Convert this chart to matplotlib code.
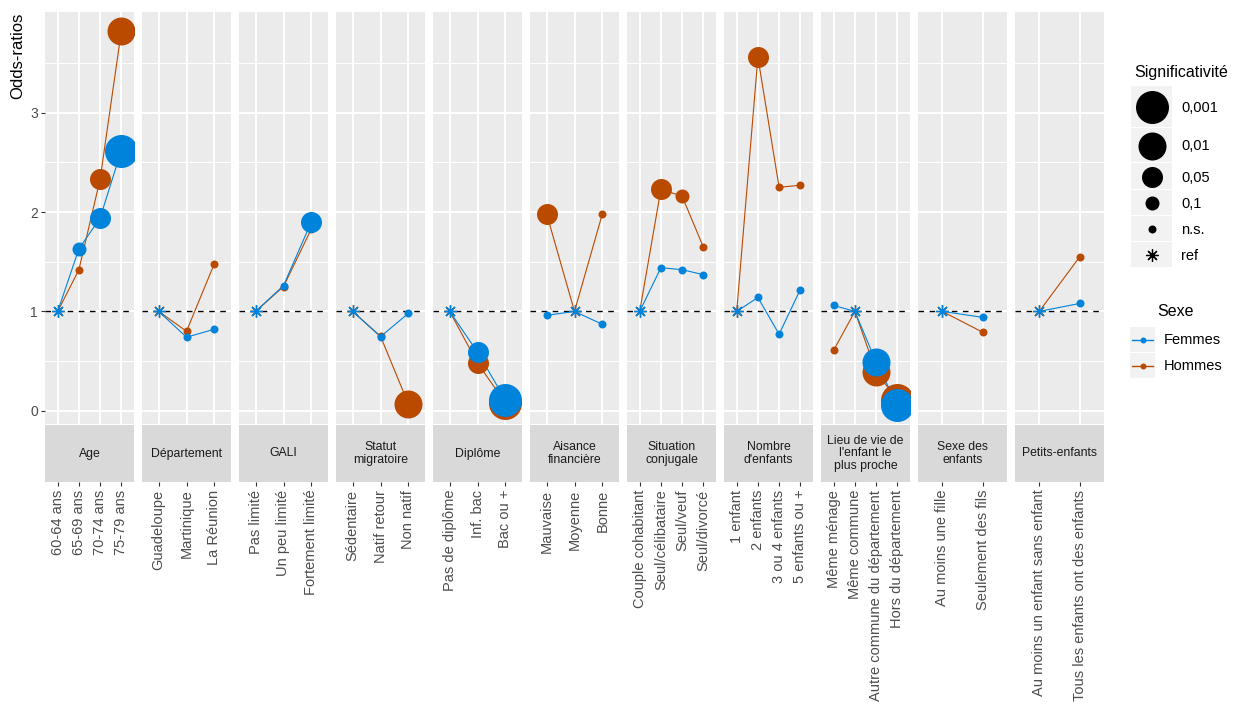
import matplotlib
matplotlib.use("Agg")
import matplotlib.pyplot as plt
from matplotlib.patches import Rectangle

plt.rcParams['font.family'] = ['Liberation Sans', 'DejaVu Sans']

W, H = 1241, 706

# --- data ---
FACETS = ["Age", "Département", "GALI", "Statut\nmigratoire", "Diplôme",
          "Aisance\nfinancière", "Situation\nconjugale", "Nombre\nd'enfants",
          "Lieu de vie de\nl'enfant le\nplus proche", "Sexe des\nenfants", "Petits-enfants"]
CATEGORIES = [
    ["60-64 ans", "65-69 ans", "70-74 ans", "75-79 ans"],
    ["Guadeloupe", "Martinique", "La Réunion"],
    ["Pas limité", "Un peu limité", "Fortement limité"],
    ["Sédentaire", "Natif retour", "Non natif"],
    ["Pas de diplôme", "Inf. bac", "Bac ou +"],
    ["Mauvaise", "Moyenne", "Bonne"],
    ["Couple cohabitant", "Seul/célibataire", "Seul/veuf", "Seul/divorcé"],
    ["1 enfant", "2 enfants", "3 ou 4 enfants", "5 enfants ou +"],
    ["Même ménage", "Même commune", "Autre commune du département", "Hors du département"],
    ["Au moins une fille", "Seulement des fils"],
    ["Au moins un enfant sans enfant", "Tous les enfants ont des enfants"],
]
OR_FEMMES = [
    [1, 1.63, 1.94, 2.62],
    [1, 0.74, 0.82],
    [1, 1.26, 1.90],
    [1, 0.745, 0.98],
    [1, 0.59, 0.11],
    [0.96, 1, 0.87],
    [1, 1.44, 1.42, 1.37],
    [1, 1.14, 0.77, 1.22],
    [1.06, 1, 0.49, 0.06],
    [1, 0.94],
    [1, 1.08],
]
OR_HOMMES = [
    [1, 1.42, 2.33, 3.82],
    [1, 0.80, 1.48],
    [1, 1.25, 1.83],
    [1, 0.75, 0.07],
    [1, 0.48, 0.08],
    [1.98, 1, 1.98],
    [1, 2.23, 2.16, 1.65],
    [1, 3.56, 2.25, 2.27],
    [0.61, 1, 0.39, 0.11],
    [1, 0.79],
    [1, 1.55],
]
SIG_FEMMES = [
    ["ref", "0,1", "0,05", "0,001"],
    ["ref", "n.s.", "n.s."],
    ["ref", "n.s.", "0,05"],
    ["ref", "n.s.", "n.s."],
    ["ref", "0,05", "0,001"],
    ["n.s.", "ref", "n.s."],
    ["ref", "n.s.", "n.s.", "n.s."],
    ["ref", "n.s.", "n.s.", "n.s."],
    ["n.s.", "ref", "0,01", "0,001"],
    ["ref", "n.s."],
    ["ref", "n.s."],
]
SIG_HOMMES = [
    ["ref", "n.s.", "0,05", "0,01"],
    ["ref", "n.s.", "n.s."],
    ["ref", "n.s.", "n.s."],
    ["ref", "n.s.", "0,01"],
    ["ref", "0,05", "0,001"],
    ["0,05", "ref", "n.s."],
    ["ref", "0,05", "0,1", "n.s."],
    ["ref", "0,05", "n.s.", "n.s."],
    ["n.s.", "ref", "0,01", "0,001"],
    ["ref", "n.s."],
    ["ref", "n.s."],
]
SEXES = ["Femmes", "Hommes"]
COLORS = {"Femmes": "#0083DB", "Hommes": "#BA4A00"}
SIG_LEVELS = ["0,001", "0,01", "0,05", "0,1", "n.s.", "ref"]
SIG_DIAM = {"0,001": 33, "0,01": 28, "0,05": 21, "0,1": 14, "n.s.": 8}  # pixels


def rect(x0, y0, x1, y1):
    # pixel box (origin top-left) -> figure fraction rect
    return [x0 / W, 1 - y1 / H, (x1 - x0) / W, (y1 - y0) / H]


def area(d):
    return (d * 0.72) ** 2


fig = plt.figure(figsize=(W / 100, H / 100), dpi=100)

data = {"Femmes": (OR_FEMMES, SIG_FEMMES), "Hommes": (OR_HOMMES, SIG_HOMMES)}

for i, (facet, cats) in enumerate(zip(FACETS, CATEGORIES)):
    x0 = 45 + i * 97
    ax = fig.add_axes(rect(x0, 12, x0 + 89, 424))
    st = fig.add_axes(rect(x0, 425, x0 + 89, 482))
    n = len(cats)
    pos = list(range(1, n + 1))

    ax.set_facecolor("#EBEBEB")
    for s in ax.spines.values():
        s.set_visible(False)
    ax.set_xlim(0.4, n + 0.6)
    ax.set_ylim(-0.134, 4.015)
    ax.set_xticks(pos)
    ax.set_yticks([0, 1, 2, 3])
    ax.set_yticks([0.5, 1.5, 2.5, 3.5], minor=True)
    ax.grid(which="major", color="white", lw=1.4)
    ax.grid(which="minor", color="white", lw=0.7)
    ax.set_axisbelow(True)
    ax.tick_params(axis="x", length=0, labelbottom=False)
    ax.tick_params(axis="y", which="minor", length=0)
    if i == 0:
        ax.tick_params(axis="y", length=3, width=0.8, color="#333333", pad=2.2,
                       labelsize=10, labelcolor="#4D4D4D")
    else:
        ax.tick_params(axis="y", left=False, labelleft=False)

    ax.axhline(1, color="black", lw=1.0, ls=(0, (4, 4)), zorder=2)

    # lines
    for sx in ["Hommes", "Femmes"]:
        vals = data[sx][0][i]
        ax.plot(pos, vals, color=COLORS[sx], lw=0.8, zorder=3)
    # points
    for sx in ["Hommes", "Femmes"]:
        vals, sigs = data[sx][0][i], data[sx][1][i]
        for p, v, sg in zip(pos, vals, sigs):
            if sg == "ref":
                ax.plot(p, v, marker=(8, 2, 0), ms=9, mew=0.9, color=COLORS[sx], zorder=4)
            else:
                ax.scatter(p, v, s=area(SIG_DIAM[sg]), color=COLORS[sx], lw=0, zorder=4)

    # strip (below the panel) carrying the category tick labels
    st.set_facecolor("#D9D9D9")
    for s in st.spines.values():
        s.set_visible(False)
    st.set_xlim(0.4, n + 0.6)
    st.set_yticks([])
    st.set_xticks(pos)
    st.set_xticklabels(cats, rotation=90)
    st.tick_params(axis="x", length=3, width=0.8, color="#333333", pad=2.5,
                   labelsize=10.5, labelcolor="#4D4D4D")
    st.text(0.5, 0.5, facet, transform=st.transAxes, ha="center", va="center",
            fontsize=8.8, color="#1A1A1A", linespacing=1.1)

fig.text(18 / W, 1 - 13 / H, "Odds-ratios", rotation=90, ha="center", va="top",
         fontsize=12, color="black")

# --- legends, drawn in pixel coordinates ---
lg = fig.add_axes([0, 0, 1, 1])
lg.set_xlim(0, W)
lg.set_ylim(H, 0)
lg.axis("off")

lg.text(1134, 72, "Significativité", ha="left", va="center", fontsize=11.5)
y = 86
for lev, kh in zip(SIG_LEVELS, [42, 35, 27, 26, 26, 26]):
    lg.add_patch(Rectangle((1131, y), 41, kh - 1, fc="#F2F2F2", ec="none"))
    cy = y + kh / 2
    if lev == "ref":
        lg.plot(1151.5, cy, marker=(8, 2, 0), ms=9, mew=0.9, color="black")
    else:
        lg.scatter(1151.5, cy, s=area(SIG_DIAM[lev]), color="black", lw=0)
    lg.text(1181, cy + 1, lev, ha="left", va="center", fontsize=10.5, color="black")
    y += kh

lg.text(1157, 312, "Sexe", ha="left", va="center", fontsize=11.5)
y = 327
for sx in SEXES:
    lg.add_patch(Rectangle((1130, y), 25, 25, fc="#F2F2F2", ec="none"))
    cy = y + 12.5
    lg.plot([1132, 1153], [cy, cy], color=COLORS[sx], lw=1.0)
    lg.scatter(1142.5, cy, s=area(6), color=COLORS[sx], lw=0)
    lg.text(1164, cy + 1, sx, ha="left", va="center", fontsize=10.5, color="black")
    y += 26

fig.savefig("out.png", dpi=100)
